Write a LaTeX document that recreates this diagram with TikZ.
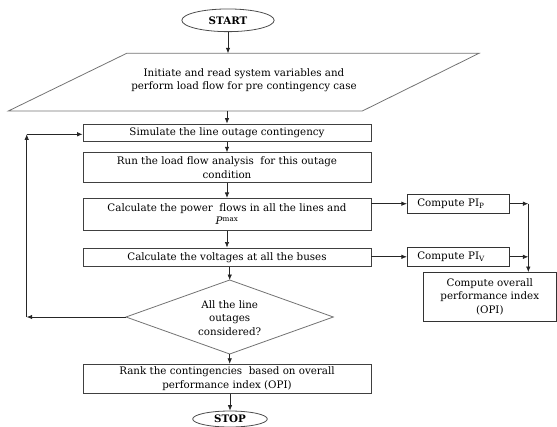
\documentclass[tikz,border=0pt]{standalone}
\usepackage{fontspec}
\setmainfont{DejaVu Serif}
\usetikzlibrary{arrows.meta,shapes.geometric}
\newcommand\flowtxt{\fontsize{10.3}{13.3}\selectfont}
\begin{document}
\begin{tikzpicture}[x=1pt,y=-1pt,
  box/.style={draw=black!75, line width=0.9pt, inner sep=0pt, align=center, font=\flowtxt, minimum width=288},
  sidebox/.style={draw=black!80, line width=0.9pt, inner xsep=10pt, inner ysep=0pt, text width=81.7, align=left, font=\flowtxt, minimum height=19.3},
  term/.style={ellipse, draw=black!70, line width=0.8pt, inner sep=0pt, font=\bfseries\flowtxt},
  shapeline/.style={draw=black!55, line width=0.8pt},
  arr/.style={-{Latex[length=5.5pt,width=4.5pt]}, line width=0.7pt, draw=black!85}]
\useasboundingbox (0,0) rectangle (557,426);
% terminals
\node[term, minimum width=92.3, minimum height=22.7] (start) at (228,20.3) {START};
% parallelogram
\coordinate (pTL) at (126.7,53.3);
\coordinate (pTR) at (479,53.3);
\coordinate (pBR) at (362.3,111);
\coordinate (pBL) at (8.3,111);
\draw[shapeline] (pTL) -- (pTR) -- (pBR) -- (pBL) -- cycle;
\node[font=\flowtxt, align=center, inner sep=0pt] (init) at (244,80) {Initiate and read system variables and\\perform load flow for pre contingency case};
\coordinate (initT) at (229,53.3);
\coordinate (initB) at (227,111);
% main boxes
\node[box, minimum height=17.7] (b1) at (227,132.9) {Simulate the line outage contingency};
\node[box, minimum height=30] (b2) at (227,167.7) {Run the load flow analysis\ \ for this outage\\condition};
\node[box, minimum height=31.7] (b3) at (227,214.2) {Calculate the power\ \ flows in all the lines and\\\textit{P}\textsuperscript{max}};
\node[box, minimum height=18.7] (b4) at (227,257.3) {Calculate the voltages at all the buses};
% diamond
\coordinate (dT) at (229.7,280);
\coordinate (dR) at (333.3,317);
\coordinate (dB) at (229.7,354);
\coordinate (dL) at (126,317);
\draw[shapeline] (dT) -- (dR) -- (dB) -- (dL) -- cycle;
\node[font=\flowtxt, align=center, inner sep=0pt] (dq) at (229.7,318) {All the line\\outages\\considered?};
\node[box, minimum height=29] (rank) at (227,378.8) {Rank the contingencies\ \ based on overall\\performance index (OPI)};
\node[term, minimum width=74.6, minimum height=16] (stop) at (230,419) {STOP};
% side boxes
\node[sidebox] (pip) at (458.2,203.7) {Compute PI\textsubscript{P}};
\node[sidebox] (piv) at (458.2,256.8) {Compute PI\textsubscript{V}};
\node[draw=black!80, line width=0.9pt, inner sep=0pt, align=center, font=\flowtxt, minimum width=133.5, minimum height=48.5] (opi) at (489.8,296.8) {Compute overall\\performance index\\(OPI)};
% connectors main column
\draw[arr] (start.south) -- (start.south |- initT);
\draw[arr] (initB) -- (b1.north);
\draw[arr] (b1) -- (b2);
\draw[arr] (b2) -- (b3);
\draw[arr] (b3) -- (b4);
\draw[arr] (b4.south -| dT) -- (dT);
\draw[arr] (dB) -- (dB |- rank.north);
\draw[arr] (rank.south -| stop.north) -- (stop.north);
% loop back
\coordinate (loopB) at (26.7,317);
\coordinate (loopT) at (26.7,134.3);
\draw[arr] (dL) -- (loopB);
\draw[arr] (loopB) -- (loopT);
\draw[arr] (loopT) -- (b1.west |- loopT);
% side connectors
\coordinate (jP) at (528.3,203.3);
\coordinate (jV) at (528.3,255);
\draw[arr] (b3.east |- pip.west) -- (pip.west);
\draw[arr] (b4.east |- piv.west) -- (piv.west);
\draw[arr] (pip.east) -- (pip.east -| jP);
\draw[arr] (piv.east) -- (piv.east -| jV);
\draw[arr] (pip.east -| jP) -- (opi.north -| jP);
\end{tikzpicture}
\end{document}
